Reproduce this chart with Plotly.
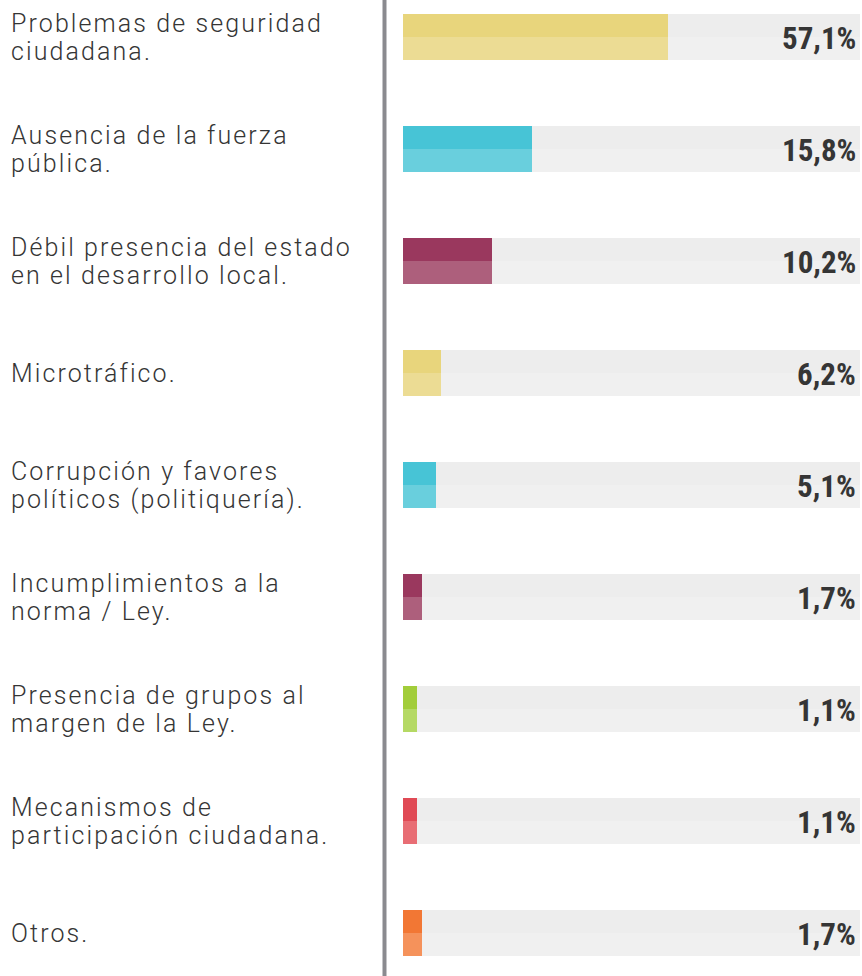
import plotly.graph_objects as go

# ── Data ─────────────────────────────────────────────────────────────────────
categories = [
    "Problemas de seguridad<br>ciudadana.",
    "Ausencia de la fuerza<br>pública.",
    "Débil presencia del estado<br>en el desarrollo local.",
    "Microtráfico.",
    "Corrupción y favores<br>políticos (politiquería).",
    "Incumplimientos a la<br>norma / Ley.",
    "Presencia de grupos al<br>margen de la Ley.",
    "Mecanismos de<br>participación ciudadana.",
    "Otros.",
]
pct_labels = ["57,1%", "15,8%", "10,2%", "6,2%", "5,1%", "1,7%", "1,1%", "1,1%", "1,7%"]
# drawn bar length as a share of the grey track (track = 100)
bar_lengths = [58.0, 28.2, 19.5, 8.3, 7.2, 4.2, 3.1, 3.1, 4.2]
track_full = [100] * len(categories)

# ── Colours ──────────────────────────────────────────────────────────────────
YELLOW = ("#e8d57c", "#ecdc94")
CYAN   = ("#47c4d6", "#69cfdd")
WINE   = ("#9a385e", "#ad5f7c")
GREEN  = ("#a2cd3a", "#b5d964")
RED    = ("#e04a55", "#e86d74")
ORANGE = ("#f27734", "#f5925b")
row_colours = [YELLOW, CYAN, WINE, YELLOW, CYAN, WINE, GREEN, RED, ORANGE]
TRACK_TOP, TRACK_BOT = "#ededed", "#f0f0f0"
TEXT = "#353535"
RULE = "#8a8a8f"

W, H = 862, 976
ROW = 112          # px between rows
FIRST = 37         # px from top to first row centre
HALF = 0.205
LINE = 14          # half line pitch for two-line labels (px)
y_idx = list(range(len(categories)))

fig = go.Figure()

# grey tracks (upper and lower halves)
for col, off in ((TRACK_TOP, -HALF), (TRACK_BOT, 0)):
    fig.add_trace(go.Bar(
        x=track_full, y=y_idx, orientation="h",
        marker=dict(color=col, line=dict(width=0)),
        width=HALF, offset=off, hoverinfo="skip", showlegend=False,
    ))

# coloured bars: darker upper half, lighter lower half
for k, off in ((0, -HALF), (1, 0)):
    fig.add_trace(go.Bar(
        x=bar_lengths, y=y_idx, orientation="h",
        marker=dict(color=[c[k] for c in row_colours], line=dict(width=0)),
        width=HALF, offset=off, showlegend=False,
    ))

# category labels on the left, one annotation per line for a tight pitch
label_font = dict(family="Roboto", size=25, color=TEXT, weight=300)
for i, lab in enumerate(categories):
    lines = lab.split("<br>")
    shifts = [LINE, -LINE] if len(lines) == 2 else [0]
    for txt, dy in zip(lines, shifts):
        fig.add_annotation(
            x=9 / W, xref="paper", y=i, yref="y", yshift=dy,
            text=txt, showarrow=False, xanchor="left", yanchor="middle",
            font=label_font,
        )

# percentage labels at the right end of each track
for i, p in enumerate(pct_labels):
    fig.add_annotation(
        x=100, xref="x", y=i, yref="y",
        text=p, showarrow=False, xanchor="right", yanchor="middle",
        xshift=-2, yshift=-1,
        font=dict(family="Liberation Sans Narrow, Roboto Condensed, Arial Narrow",
                  size=31, color=TEXT, weight="bold"),
    )

# vertical divider
fig.add_shape(type="line", xref="paper", yref="paper",
              x0=384.5 / W, x1=384.5 / W, y0=0, y1=1,
              line=dict(color=RULE, width=4))

top = -FIRST / ROW
bot = (H - FIRST) / ROW
fig.update_layout(
    width=W, height=H,
    margin=dict(l=0, r=0, t=0, b=0),
    paper_bgcolor="white", plot_bgcolor="white",
    barmode="overlay", bargap=0,
    xaxis=dict(domain=[403 / W, 860 / W], range=[0, 100],
               visible=False, fixedrange=True),
    yaxis=dict(range=[bot, top], visible=False, fixedrange=True),
)

# page without body margin; wider tracking on the light labels (DIN-like look),
# keeping each label pinned to its left edge
post = """
document.body.style.margin = '0';
var gd = document.getElementById('{plot_id}');
gd.querySelectorAll('.annotation-text').forEach(function (t) {
    if (String(t.style.fontWeight) !== '300') { return; }
    var b = t.getBBox();
    t.style.letterSpacing = '2.1px';
    t.setAttribute('text-anchor', 'start');
    t.setAttribute('x', b.x);
    t.querySelectorAll('tspan').forEach(function (s) {
        if (s.hasAttribute('x')) { s.setAttribute('x', b.x); }
    });
});
"""
fig.write_html("out.html", post_script=post, config={"displayModeBar": False})
